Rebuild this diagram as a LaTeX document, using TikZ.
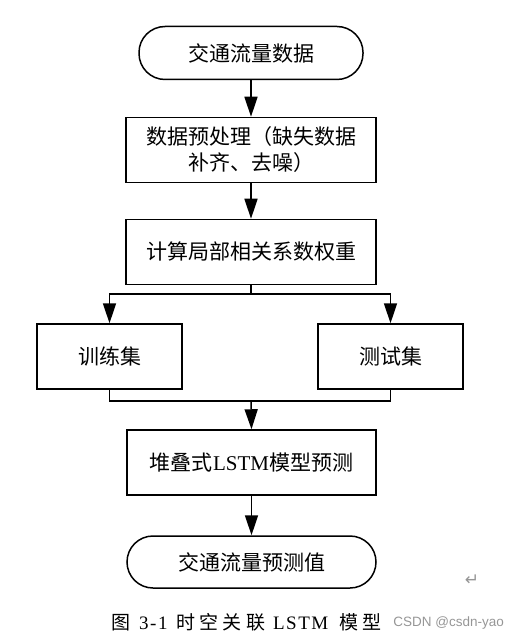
\documentclass[tikz,border=0pt]{standalone}
\usepackage{fontspec}
\setmainfont{Liberation Serif}
\newfontfamily\cjk{Noto Sans CJK SC}
\newfontfamily\capcjk[LetterSpace=22]{Noto Sans CJK SC}
\newfontfamily\caplatin[LetterSpace=8]{Liberation Serif}
\newfontfamily\symfont{DejaVu Sans}
\newfontfamily\wmfont{Liberation Sans}
\usepackage{xcolor}
\definecolor{wmgray}{RGB}{150,150,150}
\usetikzlibrary{arrows.meta, positioning}

\tikzset{
  stepbox/.style={draw, line width=1.5pt, minimum width=250pt, minimum height=65pt,
    align=center, font=\cjk\fontsize{21}{26}\selectfont, inner sep=2pt},
  termbox/.style={stepbox, rounded corners=26pt, minimum height=52pt},
  setbox/.style={stepbox, minimum width=145pt},
  arr/.style={line width=1.5pt, -{Triangle[length=20pt, width=13pt]}},
  link/.style={line width=1.5pt}
}

\begin{document}
\begin{tikzpicture}[x=1pt, y=-1pt]
  \useasboundingbox (0,0) rectangle (508,644);

  % flow boxes
  \node[termbox, minimum width=224pt, minimum height=53pt] (src) at (251,53) {交通流量数据};
  \node[stepbox] (prep) at (251,150) {数据预处理（缺失数据\\补齐、去噪）};
  \node[stepbox] (weight) at (251,252) {计算局部相关系数权重};
  \node[setbox] (train) at (109.5,356.5) {训练集};
  \node[setbox] (test) at (390.5,356.5) {测试集};
  \node[stepbox, minimum width=249pt] (lstm) at (251.5,462.5) {堆叠式\rmfamily LSTM\cjk 模型预测};
  \node[termbox, minimum width=249pt] (out) at (251.5,562) {交通流量预测值};

  % split and merge points
  \coordinate (split) at (251,294);
  \coordinate (merge) at (251,401);

  % connectors
  \draw[arr] (src) -- (prep);
  \draw[arr] (prep) -- (weight);
  \draw[link] (weight.south) -- (split);
  \draw[arr] (split) -| (train.north);
  \draw[arr] (split) -| (test.north);
  \draw[link] (train.south) |- (merge) -| (test.south);
  \draw[arr] (merge) -- (lstm.north);
  \draw[arr] (lstm) -- (out);

  % caption
  \node[font=\fontsize{19}{21}\selectfont, anchor=west, inner sep=0pt] (cap) at (111,622)
    {\cjk 图\hspace{9pt}\caplatin 3-1\hspace{9pt}\capcjk 时空关联\hspace{8pt}\caplatin LSTM\hspace{11pt}\capcjk 模型};
  \node[font=\symfont\fontsize{17}{18}\selectfont, text=wmgray] (ret) at (472,580) {↵};
  \node[font=\wmfont\fontsize{13.5}{16}\selectfont, text=wmgray, anchor=east, inner sep=0pt] (wm) at (504,623) {CSDN @csdn-yao};
\end{tikzpicture}
\end{document}
